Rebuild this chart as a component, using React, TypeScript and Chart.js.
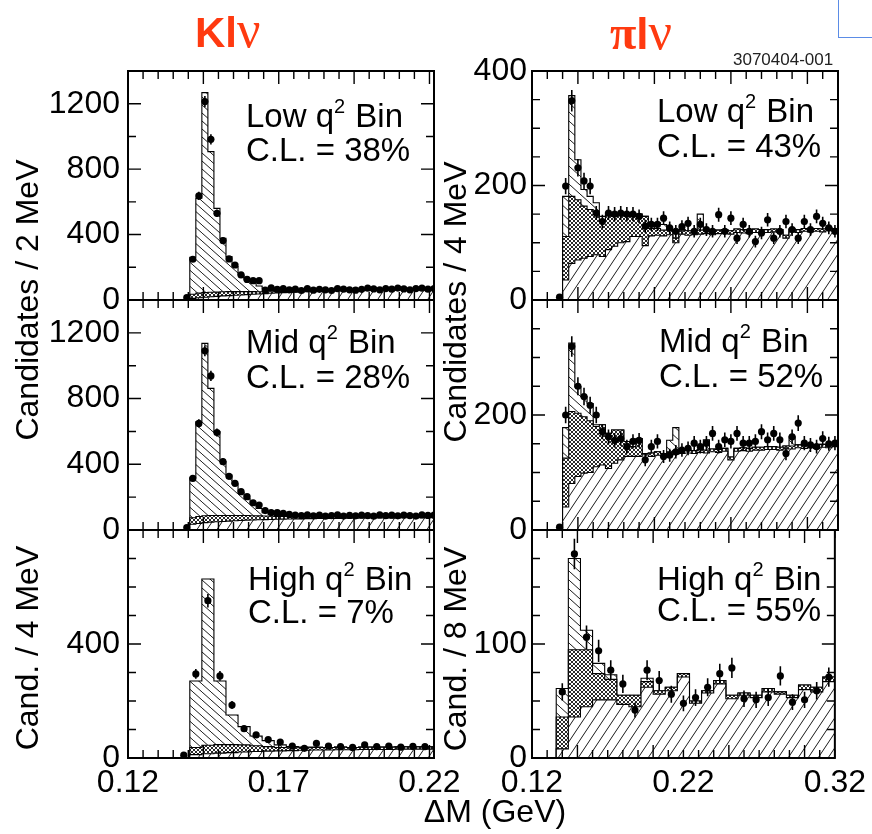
import React, { useEffect, useRef } from "react";
import { Chart, registerables } from "chart.js";

Chart.register(...registerables);

const FONT = '"Liberation Sans", Arial, Helvetica, sans-serif';
const SERIF = '"Liberation Serif", "Times New Roman", serif';

// ---------------- tick labels ----------------
const kXTicks = [0.12, 0.17, 0.22];
const piXTicks = [0.12, 0.22, 0.32];
const kLowYTicks = [0, 400, 800, 1200];
const kMidYTicks = [0, 400, 800, 1200];
const kHighYTicks = [0, 400];
const piLowYTicks = [0, 200, 400];
const piMidYTicks = [0, 200];
const piHighYTicks = [0, 100];

const binNames = ["Low", "Mid", "High"];
const kCL = ["38%", "28%", "7%"];
const piCL = ["43%", "52%", "55%"];

// ---------------- K l nu, low q2 (2 MeV bins) ----------------
const kLowComb = [10, 14, 17, 20, 22, 25, 27, 29, 31, 33, 35, 37, 39, 41, 43, 45, 46, 48, 49, 50, 51, 52, 53, 54, 55, 56, 57, 57, 58, 58, 59, 59, 60, 60, 61, 61, 62, 62, 62, 63, 63];
const kLowCross = [25, 28, 28, 27, 26, 25, 24, 22, 20, 18, 16, 13, 10, 9, 8, 7, 7, 6, 6, 6, 6, 6, 6, 6, 6, 6, 6, 6, 6, 6, 6, 6, 6, 6, 6, 6, 6, 6, 6, 6, 6];
const kLowSignal = [226, 580, 1223, 860, 512, 327, 214, 153, 102, 71, 51, 36, 22, 8, 5, 3, 2, 1, 1, 0, 0, 0, 0, 0, 0, 0, 0, 0, 0, 0, 0, 0, 0, 0, 0, 0, 0, 0, 0, 0, 0];
const kLowData = [15, 249, 636, 1213, 982, 530, 363, 251, 214, 153, 126, 118, 118, 61, 75, 65, 70, 62, 66, 58, 70, 60, 65, 62, 58, 70, 66, 62, 60, 65, 72, 68, 62, 70, 66, 73, 68, 62, 70, 72, 66, 70];

// ---------------- K l nu, mid q2 (2 MeV bins) ----------------
const kMidComb = [35, 40, 45, 48, 50, 52, 54, 56, 58, 60, 61, 62, 63, 64, 65, 66, 67, 68, 68, 69, 69, 70, 70, 71, 71, 72, 72, 72, 73, 73, 73, 74, 74, 74, 74, 75, 75, 75, 75, 75, 76];
const kMidCross = [40, 42, 42, 40, 38, 36, 34, 32, 30, 28, 26, 24, 22, 20, 18, 17, 16, 15, 15, 14, 14, 14, 13, 13, 13, 13, 12, 12, 12, 12, 12, 12, 12, 12, 12, 12, 12, 12, 12, 12, 12];
const kMidSignal = [243, 577, 1049, 774, 511, 328, 247, 192, 142, 102, 73, 45, 20, 10, 5, 3, 2, 1, 0, 0, 0, 0, 0, 0, 0, 0, 0, 0, 0, 0, 0, 0, 0, 0, 0, 0, 0, 0, 0, 0, 0];
const kMidData = [15, 314, 649, 1091, 938, 593, 416, 327, 284, 233, 203, 166, 152, 118, 106, 106, 102, 95, 91, 88, 92, 86, 90, 84, 88, 92, 85, 89, 86, 90, 88, 84, 92, 87, 90, 86, 91, 88, 85, 92, 89, 90];

// ---------------- K l nu, high q2 (4 MeV bins) ----------------
const kHighComb = [12, 15, 17, 19, 21, 23, 24, 25, 26, 27, 28, 28, 29, 29, 30, 30, 30, 31, 31, 31, 31];
const kHighCross = [25, 30, 30, 28, 25, 20, 16, 12, 10, 9, 9, 9, 9, 8, 8, 8, 8, 8, 8, 8, 8];
const kHighSignal = [233, 583, 223, 104, 64, 34, 21, 9, 4, 2, 1, 0, 0, 0, 0, 0, 0, 0, 0, 0, 0];
const kHighData = [10, 295, 552, 288, 186, 103, 81, 65, 56, 42, 34, 51, 42, 40, 37, 46, 40, 42, 38, 41, 40, 42];

// ---------------- pi l nu, low q2 (4 MeV bins) ----------------
const piLowComb = [35, 64, 70, 73, 76, 79, 76, 88, 94, 100, 102, 111, 111, 95, 112, 113, 112, 114, 100, 115, 113, 114, 115, 116, 114, 116, 117, 115, 118, 117, 116, 118, 117, 118, 119, 118, 108, 119, 118, 120, 119, 120, 119, 121, 120];
const piLowCross = [76, 117, 105, 91, 82, 73, 64, 60, 52, 48, 44, 35, 39, 51, 13, 12, 10, 9, 8, 8, 8, 7, 7, 7, 7, 6, 6, 6, 6, 6, 6, 6, 6, 5, 5, 5, 5, 5, 5, 5, 5, 5, 5, 5, 5];
const piLowSignal = [70, 176, 70, 29, 23, 18, 6, 4, 0, 0, 0, 0, 0, 0, 0, 10, 10, 0, 0, 0, 0, 0, 28, 0, 0, 0, 0, 0, 0, 0, 0, 0, 0, 0, 0, 0, 0, 0, 0, 0, 0, 0, 0, 0, 0];
const piLowData = [5, 199, 348, 231, 208, 199, 152, 137, 152, 150, 152, 150, 150, 146, 129, 132, 132, 143, 126, 120, 128, 134, 120, 132, 123, 120, 149, 120, 143, 108, 132, 120, 102, 117, 140, 108, 120, 137, 123, 108, 137, 123, 146, 134, 126, 120];

// ---------------- pi l nu, mid q2 (4 MeV bins) ----------------
const piMidComb = [40, 81, 93, 99, 100, 110, 113, 107, 116, 122, 128, 128, 128, 131, 128, 130, 127, 130, 132, 133, 134, 133, 135, 134, 136, 135, 137, 122, 137, 138, 137, 139, 139, 140, 140, 139, 141, 141, 143, 142, 143, 142, 144, 143, 145];
const piMidCross = [85, 125, 110, 98, 90, 70, 70, 61, 58, 52, 26, 17, 31, 2, 6, 6, 6, 6, 6, 5, 5, 5, 5, 5, 5, 5, 5, 5, 5, 5, 5, 5, 5, 5, 5, 5, 5, 5, 5, 5, 5, 5, 5, 5, 5];
const piMidSignal = [53, 119, 46, 35, 30, 3, 0, 0, 0, 0, 0, 0, 0, 0, 0, 0, 0, 20, 40, 0, 0, 0, 0, 18, 0, 0, 0, 0, 0, 0, 0, 0, 0, 0, 0, 0, 0, 16, 0, 0, 0, 0, 0, 0, 0];
const piMidData = [5, 200, 319, 250, 232, 217, 200, 171, 162, 156, 159, 145, 154, 156, 122, 145, 154, 128, 130, 136, 139, 142, 151, 145, 151, 168, 145, 157, 154, 168, 151, 151, 154, 171, 157, 168, 157, 133, 162, 186, 151, 148, 145, 159, 150, 151];

// ---------------- pi l nu, high q2 (8 MeV bins) ----------------
const piHighComb = [8, 36, 45, 51, 51, 47, 45, 62, 56, 59, 71, 48, 57, 65, 52, 55, 53, 58, 56, 53, 60, 58, 67];
const piHighCross = [28, 59, 50, 23, 18, 8, 10, 5, 3, 3, 3, 2, 2, 3, 3, 2, 2, 3, 2, 2, 4, 4, 4];
const piHighSignal = [25, 80, 17, 9, 4, 0, 0, 3, 0, 0, 0, 0, 0, 0, 0, 0, 0, 0, 0, 0, 0, 0, 0];
const piHighData = [null, 58, 179, 106, 94, 77, 65, 42, 77, 68, 56, 48, 53, 62, 74, 79, 52, 51, 53, 72, 49, 51, 59, 71];

type PanelCfg = {
  key: string;
  left: number; top: number; w: number; h: number;
  yAxisW: number; padTop: number; padRight: number; padBottom: number;
  showX: boolean; xAxisH: number;
  xMin: number; xMax: number; xLabels: number[];
  xMinor: number; xMajor: number; xMajorOrigin: number;
  yMax: number; yLabels: number[]; yMinor: number; yPad: number;
  edge0: number; binW: number;
  comb: number[]; cross: number[]; signal: number[]; data: (number | null)[];
  bin: string; cl: string; tdx: number; tdy1: number; tdy2: number;
  sigW: number; sigH: number;
};

function hatch(w: number, h: number, dir: number): CanvasPattern {
  const c = document.createElement("canvas");
  c.width = w; c.height = h;
  const g = c.getContext("2d")!;
  g.fillStyle = "#fff";
  g.fillRect(0, 0, w, h);
  g.strokeStyle = "#000";
  g.lineWidth = 0.9;
  g.beginPath();
  for (const o of [-w, 0, w]) {
    if (dir > 0) { g.moveTo(o, h); g.lineTo(o + w, 0); }
    else { g.moveTo(o, 0); g.lineTo(o + w, h); }
  }
  g.stroke();
  return g.createPattern(c, "repeat")!;
}

function mesh(): CanvasPattern {
  const c = document.createElement("canvas");
  c.width = 4; c.height = 4;
  const g = c.getContext("2d")!;
  g.fillStyle = "#fff";
  g.fillRect(0, 0, 4, 4);
  g.fillStyle = "#2a2a2a";
  for (let i = 0; i < 4; i++) {
    g.fillRect(i, i, 1, 1);
    g.fillRect(3 - i, i, 1, 1);
  }
  return g.createPattern(c, "repeat")!;
}

function histPoints(edge0: number, w: number, vals: number[]) {
  const pts: { x: number; y: number }[] = [{ x: edge0, y: 0 }];
  vals.forEach((v, i) => pts.push({ x: edge0 + i * w, y: v }));
  pts.push({ x: edge0 + vals.length * w, y: vals[vals.length - 1] });
  pts.push({ x: edge0 + vals.length * w, y: 0 });
  return pts;
}

function drawRich(ctx: CanvasRenderingContext2D, segs: { t: string; sup?: boolean }[], x: number, y: number, size: number) {
  let cx = x;
  for (const s of segs) {
    const fs = s.sup ? Math.round(size * 0.62) : size;
    ctx.font = `${fs}px ${FONT}`;
    ctx.fillText(s.t, cx, s.sup ? y - size * 0.42 : y);
    cx += ctx.measureText(s.t).width + (s.sup ? 1 : 0);
  }
}

function buildConfig(p: PanelCfg): any {
  const slash = hatch(10, 15, 1);
  const back = hatch(p.sigW, p.sigH, -1);
  const dots = mesh();
  const l1 = p.comb.slice();
  const l2 = l1.map((v, i) => v + p.cross[i]);
  const l3 = l2.map((v, i) => v + p.signal[i]);
  const dataPts = p.data
    .map((v, i) => (v == null ? null : { x: p.edge0 + (i - 0.5) * p.binW, y: v }))
    .filter((d) => d !== null);

  const framePlugin = {
    id: "frame_" + p.key,
    afterDatasetsDraw(chart: any) {
      const { ctx, chartArea: a } = chart;
      const xs = chart.scales.x, ys = chart.scales.y;
      ctx.save();
      // error bars
      const meta = chart.getDatasetMeta(3);
      const ds = chart.data.datasets[3].data as any[];
      ctx.beginPath();
      ctx.rect(a.left, a.top, a.right - a.left, a.bottom - a.top);
      ctx.clip();
      ctx.strokeStyle = "#000";
      ctx.lineWidth = 1.6;
      ctx.beginPath();
      meta.data.forEach((el: any, i: number) => {
        const v = ds[i].y;
        const e = Math.sqrt(Math.max(v, 0));
        ctx.moveTo(el.x, ys.getPixelForValue(v - e));
        ctx.lineTo(el.x, ys.getPixelForValue(v + e));
      });
      ctx.stroke();
      ctx.restore();

      ctx.save();
      ctx.strokeStyle = "#000";
      ctx.lineWidth = 1.4;
      ctx.beginPath();
      const k0 = Math.ceil(xs.min / p.xMinor - 1e-6);
      const k1 = Math.floor(xs.max / p.xMinor + 1e-6);
      for (let k = k0; k <= k1; k++) {
        const v = k * p.xMinor;
        const r = (v - p.xMajorOrigin) / p.xMajor;
        const major = Math.abs(r - Math.round(r)) < 1e-4;
        const len = major ? 13 : 8;
        const px = xs.getPixelForValue(v);
        ctx.moveTo(px, a.bottom); ctx.lineTo(px, a.bottom - len);
        ctx.moveTo(px, a.top); ctx.lineTo(px, a.top + len);
      }
      const j1 = Math.floor(p.yMax / p.yMinor + 1e-6);
      for (let j = 0; j <= j1; j++) {
        const v = j * p.yMinor;
        const major = p.yLabels.indexOf(v) >= 0;
        const len = major ? 13 : 8;
        const py = ys.getPixelForValue(v);
        ctx.moveTo(a.left, py); ctx.lineTo(a.left + len, py);
        ctx.moveTo(a.right, py); ctx.lineTo(a.right - len, py);
      }
      ctx.stroke();
      ctx.lineWidth = 2;
      ctx.strokeRect(a.left, a.top, a.right - a.left, a.bottom - a.top);
      ctx.restore();
    },
    afterDraw(chart: any) {
      const { ctx, chartArea: a } = chart;
      ctx.save();
      ctx.fillStyle = "#000";
      ctx.textBaseline = "alphabetic";
      ctx.textAlign = "left";
      drawRich(ctx, [{ t: p.bin + " q" }, { t: "2", sup: true }, { t: " Bin" }], a.left + p.tdx, a.top + p.tdy1, 33);
      drawRich(ctx, [{ t: "C.L. = " + p.cl }], a.left + p.tdx, a.top + p.tdy2, 33);
      ctx.restore();
    },
  };

  const lineBase = {
    type: "line",
    stepped: "before",
    borderColor: "#000",
    borderWidth: 1.1,
    pointRadius: 0,
    order: 0,
  };

  return {
    type: "line",
    data: {
      datasets: [
        { ...lineBase, data: histPoints(p.edge0, p.binW, l1), fill: "origin", backgroundColor: slash },
        { ...lineBase, data: histPoints(p.edge0, p.binW, l2), fill: "-1", backgroundColor: dots },
        { ...lineBase, data: histPoints(p.edge0, p.binW, l3), fill: "-1", backgroundColor: back },
        {
          type: "line",
          data: dataPts,
          showLine: false,
          pointRadius: 3.6,
          pointBackgroundColor: "#000",
          pointBorderColor: "#000",
          pointBorderWidth: 0,
          order: -1,
        },
      ],
    },
    options: {
      responsive: false,
      animation: false,
      events: [],
      layout: { padding: { left: 0, right: p.padRight, top: p.padTop, bottom: p.padBottom } },
      plugins: { legend: { display: false }, tooltip: { enabled: false } },
      scales: {
        x: {
          type: "linear",
          min: p.xMin,
          max: p.xMax,
          display: p.showX,
          grid: { display: false, drawTicks: false },
          border: { display: false },
          ticks: {
            font: { family: FONT, size: 32 },
            color: "#000",
            padding: 6,
            maxRotation: 0,
            autoSkip: false,
            callback: (v: any) => Number(v).toFixed(2),
          },
          afterBuildTicks: (s: any) => { s.ticks = p.xLabels.map((v) => ({ value: v })); },
          afterFit: (s: any) => { s.height = p.xAxisH; },
        },
        y: {
          type: "linear",
          min: 0,
          max: p.yMax,
          grid: { display: false, drawTicks: false },
          border: { display: false },
          ticks: {
            font: { family: FONT, size: 32 },
            color: "#000",
            padding: p.yPad,
            callback: (v: any) => String(v),
          },
          afterBuildTicks: (s: any) => { s.ticks = p.yLabels.map((v) => ({ value: v })); },
          afterFit: (s: any) => { s.width = p.yAxisW; },
        },
      },
    },
    plugins: [framePlugin],
  };
}

const LEFT = { left: 40, w: 430, yAxisW: 88, padRight: 36, xMin: 0.12, xMax: 0.2215, xLabels: kXTicks, xMinor: 0.005, xMajor: 0.025, xMajorOrigin: 0.12, yPad: 8, edge0: 0.1405, sigW: 9, sigH: 8 };
const RIGHT = { left: 470, w: 402, yAxisW: 62, padRight: 34, xMin: 0.12, xMax: 0.32, xLabels: piXTicks, xMinor: 0.01, xMajor: 0.05, xMajorOrigin: 0, yPad: 5, sigW: 10, sigH: 9 };
const ROW_TOP = { top: 41, h: 289, padTop: 30, padBottom: 30, showX: false, xAxisH: 0 };
const ROW_MID = { top: 270, h: 290, padTop: 30, padBottom: 30, showX: false, xAxisH: 0 };
const ROW_BOT = { top: 500, h: 320, padTop: 30, padBottom: 0, showX: true, xAxisH: 62 };

const panels: PanelCfg[] = [
  { key: "kl", ...LEFT, ...ROW_TOP, yMax: 1400, yLabels: kLowYTicks, yMinor: 200, binW: 0.002, comb: kLowComb, cross: kLowCross, signal: kLowSignal, data: kLowData, bin: binNames[0], cl: kCL[0], tdx: 118, tdy1: 56, tdy2: 90 },
  { key: "km", ...LEFT, ...ROW_MID, yMax: 1400, yLabels: kMidYTicks, yMinor: 200, binW: 0.002, comb: kMidComb, cross: kMidCross, signal: kMidSignal, data: kMidData, bin: binNames[1], cl: kCL[1], tdx: 118, tdy1: 53, tdy2: 88 },
  { key: "kh", ...LEFT, ...ROW_BOT, yMax: 800, yLabels: kHighYTicks, yMinor: 100, binW: 0.004, comb: kHighComb, cross: kHighCross, signal: kHighSignal, data: kHighData, bin: binNames[2], cl: kCL[2], tdx: 120, tdy1: 60, tdy2: 93 },
  { key: "pl", ...RIGHT, ...ROW_TOP, yMax: 400, yLabels: piLowYTicks, yMinor: 50, edge0: 0.140, binW: 0.004, comb: piLowComb, cross: piLowCross, signal: piLowSignal, data: piLowData, bin: binNames[0], cl: piCL[0], tdx: 125, tdy1: 51, tdy2: 86 },
  { key: "pm", ...RIGHT, ...ROW_MID, yMax: 400, yLabels: piMidYTicks, yMinor: 50, edge0: 0.140, binW: 0.004, comb: piMidComb, cross: piMidCross, signal: piMidSignal, data: piMidData, bin: binNames[1], cl: piCL[1], tdx: 127, tdy1: 52, tdy2: 87 },
  { key: "ph", ...RIGHT, ...ROW_BOT, yMax: 200, yLabels: piHighYTicks, yMinor: 25, edge0: 0.136, binW: 0.008, comb: piHighComb, cross: piHighCross, signal: piHighSignal, data: piHighData, bin: binNames[2], cl: piCL[2], tdx: 125, tdy1: 60, tdy2: 91 },
] as any;

function Panel({ cfg }: { cfg: PanelCfg }) {
  const ref = useRef<HTMLCanvasElement>(null);
  useEffect(() => {
    const chart = new Chart(ref.current!, buildConfig(cfg));
    return () => chart.destroy();
  }, [cfg]);
  return (
    <canvas
      ref={ref}
      width={cfg.w}
      height={cfg.h}
      style={{ position: "absolute", left: cfg.left, top: cfg.top, width: cfg.w, height: cfg.h }}
    />
  );
}

function VTitle({ text, cx, cy }: { text: string; cx: number; cy: number }) {
  const W = 460;
  return (
    <div
      style={{
        position: "absolute",
        left: cx - W / 2,
        top: cy - 20,
        width: W,
        height: 40,
        lineHeight: "40px",
        textAlign: "center",
        fontFamily: FONT,
        fontSize: 32,
        color: "#000",
        transform: "rotate(-90deg)",
        transformOrigin: "50% 50%",
        whiteSpace: "nowrap",
      }}
    >
      {text}
    </div>
  );
}

export default function App() {
  useEffect(() => {
    document.body.style.margin = "0";
  }, []);
  const red = "#ff3a10";
  return (
    <div style={{ position: "absolute", left: 0, top: 0, width: 872, height: 834, background: "#fff", overflow: "hidden" }}>
      {panels.map((p) => (
        <Panel key={p.key} cfg={p} />
      ))}
      <div style={{ position: "absolute", left: 195, top: 4, lineHeight: 1, fontSize: 42, color: red, whiteSpace: "nowrap" }}>
        <span style={{ fontFamily: FONT, fontWeight: "bold" }}>Kl</span>
        <span style={{ fontFamily: SERIF, fontSize: 52 }}>ν</span>
      </div>
      <div style={{ position: "absolute", left: 610, top: 6, lineHeight: 1, fontSize: 44, color: red, whiteSpace: "nowrap" }}>
        <span style={{ fontFamily: SERIF, fontWeight: "bold", fontSize: 48 }}>π</span>
        <span style={{ fontFamily: FONT, fontWeight: "bold" }}>l</span>
        <span style={{ fontFamily: SERIF, fontSize: 52 }}>ν</span>
      </div>
      <div style={{ position: "absolute", left: 733, top: 50, fontFamily: FONT, fontSize: 17, color: "#222", whiteSpace: "nowrap" }}>
        3070404-001
      </div>
      <div style={{ position: "absolute", left: 838, top: 0, width: 40, height: 37, borderLeft: "1.5px solid #5b8ce6", borderBottom: "1.5px solid #5b8ce6" }} />
      <VTitle text="Candidates / 2 MeV" cx={27} cy={300} />
      <VTitle text="Cand. / 4 MeV" cx={27} cy={648} />
      <VTitle text="Candidates / 4 MeV" cx={455} cy={302} />
      <VTitle text="Cand. / 8 MeV" cx={455} cy={649} />
      <div style={{ position: "absolute", left: 345, top: 795, width: 300, textAlign: "center", lineHeight: 1, fontFamily: FONT, fontSize: 32, color: "#000", whiteSpace: "nowrap" }}>
        ΔM (GeV)
      </div>
    </div>
  );
}
